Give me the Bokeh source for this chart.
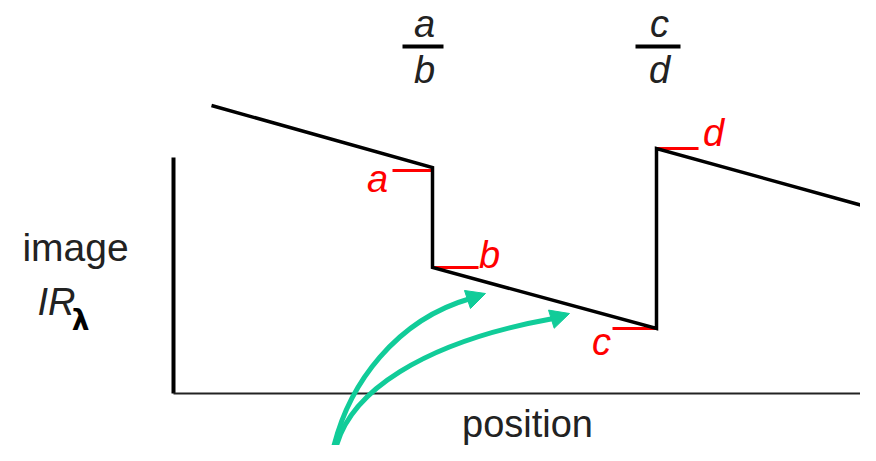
from bokeh.plotting import figure
from bokeh.models import Range1d, Arrow, NormalHead
from bokeh.core.properties import value
from bokeh.embed import file_html
from bokeh.resources import INLINE

# ---- data (diagram coordinates, pixel-like units, y grows downward) ----
signal_x = [211, 432, 432, 656, 656, 880]
signal_y = [105, 167, 267, 328, 148, 210]

axis_v_x = [173, 173]
axis_v_y = [157, 393]
axis_h_x = [173, 880]
axis_h_y = [393, 393]

tick_x0 = [392, 432, 612, 656]
tick_x1 = [432, 478, 656, 698]
tick_y = [170, 267, 328, 148]
tick_labels = ["a", "b", "c", "d"]
tick_label_x = [377, 489, 601, 713]
tick_label_y = [178, 254, 341, 132]

frac_num = ["a", "c"]
frac_den = ["b", "d"]
frac_x = [424, 659]
frac_num_y = [23, 23]
frac_den_y = [69, 69]
frac_bar_x0 = [402, 635]
frac_bar_x1 = [443, 680]
frac_bar_y = [46, 46]

# green arrows: start, two control points, end, tip
arrow_x0 = [330, 333]
arrow_y0 = [461, 461]
arrow_cx0 = [345, 340]
arrow_cy0 = [380, 390]
arrow_cx1 = [400, 430]
arrow_cy1 = [318, 340]
arrow_x1 = [470, 553]
arrow_y1 = [298, 318]
arrow_tip_x = [485, 569]
arrow_tip_y = [293, 313]

GREEN = "#11CC99"
RED = "#FF0000"
FONT = value("Liberation Sans")

p = figure(width=860, height=445, x_range=Range1d(0, 860), y_range=Range1d(445, 0),
           output_backend="svg", toolbar_location=None, min_border=0)
p.axis.visible = False
p.grid.visible = False
p.outline_line_color = None
p.background_fill_color = "white"

# axes
p.line(axis_v_x, axis_v_y, line_color="black", line_width=4)
p.line(axis_h_x, axis_h_y, line_color="#222222", line_width=2)

# red ticks
p.segment(x0=tick_x0, y0=tick_y, x1=tick_x1, y1=tick_y, line_color=RED, line_width=3)

# signal
p.line(signal_x, signal_y, line_color="black", line_width=3.5, line_join="miter")

# red labels
p.text(x=tick_label_x, y=tick_label_y, text=tick_labels, text_color=RED,
       text_font=FONT, text_font_style="italic", text_font_size="38px",
       text_align="center", text_baseline="middle")

# fractions
p.text(x=frac_x, y=frac_num_y, text=frac_num, text_color="#222222",
       text_font=FONT, text_font_style="italic", text_font_size="38px",
       text_align="center", text_baseline="middle")
p.text(x=frac_x, y=frac_den_y, text=frac_den, text_color="#222222",
       text_font=FONT, text_font_style="italic", text_font_size="38px",
       text_align="center", text_baseline="middle")
p.segment(x0=frac_bar_x0, y0=frac_bar_y, x1=frac_bar_x1, y1=frac_bar_y,
          line_color="black", line_width=4)

# axis labels
p.text(x=[75], y=[247], text=["image"], text_color="#222222", text_font=FONT,
       text_font_size="39px", text_align="center", text_baseline="middle")
p.text(x=[56], y=[301], text=["IR"], text_color="#222222", text_font=FONT,
       text_font_style="italic", text_font_size="38px", text_align="center",
       text_baseline="middle")
p.text(x=[80], y=[320], text=["λ"], text_color="black", text_font=value("DejaVu Sans"),
       text_font_style="bold", text_font_size="28px", text_align="center",
       text_baseline="middle")
p.text(x=[527], y=[423], text=["position"], text_color="#222222", text_font=FONT,
       text_font_size="38px", text_align="center", text_baseline="middle")

# green arrows
p.bezier(x0=arrow_x0, y0=arrow_y0, x1=arrow_x1, y1=arrow_y1,
         cx0=arrow_cx0, cy0=arrow_cy0, cx1=arrow_cx1, cy1=arrow_cy1,
         line_color=GREEN, line_width=5)
for xs, ys, xe, ye in zip(arrow_x1, arrow_y1, arrow_tip_x, arrow_tip_y):
    p.add_layout(Arrow(end=NormalHead(size=19, fill_color=GREEN, line_color=GREEN),
                       x_start=xs, y_start=ys, x_end=xe, y_end=ye,
                       line_color=GREEN, line_width=5))

open("out.html", "w").write(file_html(p, INLINE))
